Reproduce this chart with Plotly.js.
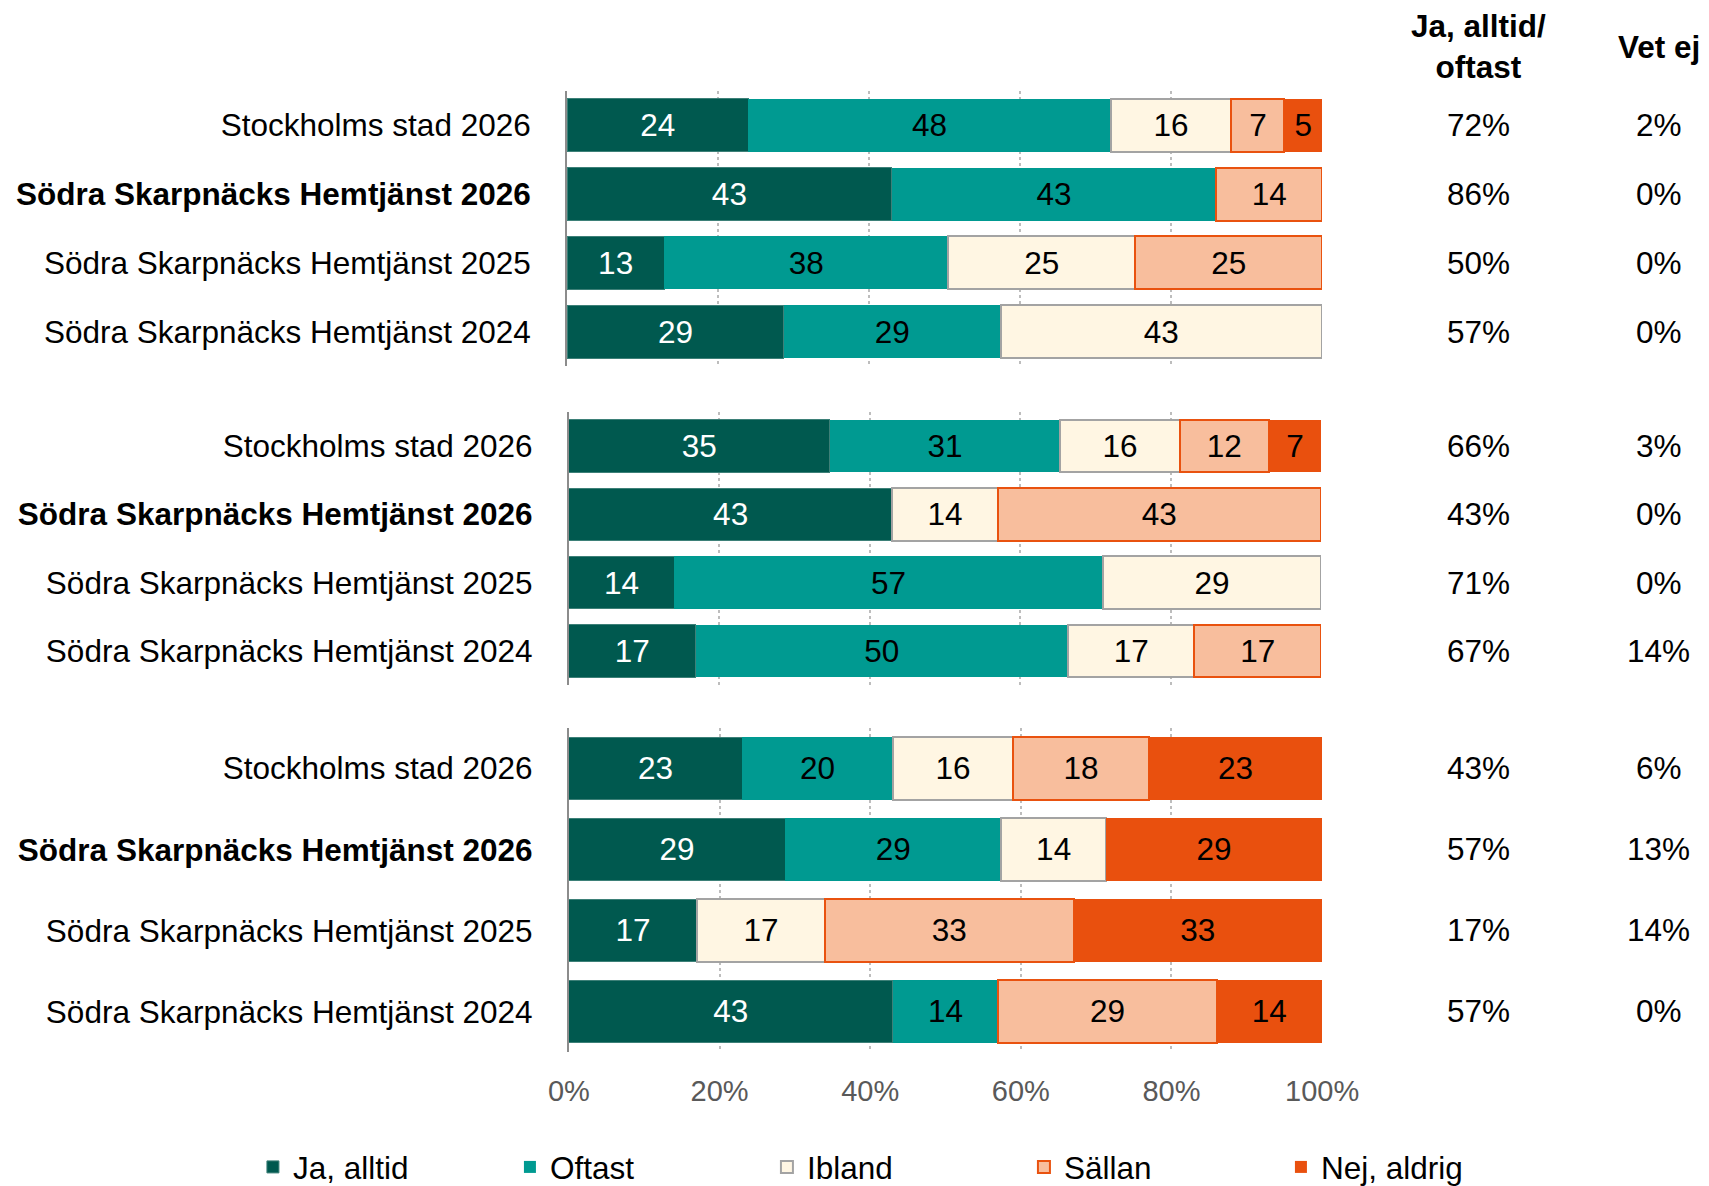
<!DOCTYPE html>
<html>
<head>
<meta charset="utf-8">
<script src="https://cdn.plot.ly/plotly-3.0.1.min.js"></script>
<style>html,body{margin:0;padding:0;background:#fff;}#chart{width:1709px;height:1186px;}</style>
</head>
<body>
<div id="chart"></div>
<script>
// ---- Data ----
const categories = [
  "Stockholms stad 2026",
  "Södra Skarpnäcks Hemtjänst 2026",
  "Södra Skarpnäcks Hemtjänst 2025",
  "Södra Skarpnäcks Hemtjänst 2024"
];
const boldCategory = "Södra Skarpnäcks Hemtjänst 2026";
const seriesNames = ["Ja, alltid", "Oftast", "Ibland", "Sällan", "Nej, aldrig"];

// group 1
const g1_ja     = [24, 43, 13, 29];
const g1_oftast = [48, 43, 38, 29];
const g1_ibland = [16, 0, 25, 43];
const g1_sallan = [7, 14, 25, 0];
const g1_nej    = [5, 0, 0, 0];
const g1_jaOftast = ["72%", "86%", "50%", "57%"];
const g1_vetEj    = ["2%", "0%", "0%", "0%"];

// group 2
const g2_ja     = [35, 43, 14, 17];
const g2_oftast = [31, 0, 57, 50];
const g2_ibland = [16, 14, 29, 17];
const g2_sallan = [12, 43, 0, 17];
const g2_nej    = [7, 0, 0, 0];
const g2_jaOftast = ["66%", "43%", "71%", "67%"];
const g2_vetEj    = ["3%", "0%", "0%", "14%"];

// group 3
const g3_ja     = [23, 29, 17, 43];
const g3_oftast = [20, 29, 0, 14];
const g3_ibland = [16, 14, 17, 0];
const g3_sallan = [18, 0, 33, 29];
const g3_nej    = [23, 29, 33, 14];
const g3_jaOftast = ["43%", "57%", "17%", "57%"];
const g3_vetEj    = ["6%", "13%", "14%", "0%"];

const headerJaOftast = "Ja, alltid/<br>oftast";
const headerVetEj = "Vet ej";
const xTickVals = [0, 20, 40, 60, 80, 100];
const xTickText = ["0%", "20%", "40%", "60%", "80%", "100%"];

// ---- Styles ----
const FONT = '"Liberation Sans", Arial, "DejaVu Sans", sans-serif';
const FS = 31.5;
const fills = ["#00594F", "#009A91", "#FFF6E3", "#F8BE9D", "#E9500E"];
const lines = [
  {color: "#3d8078", width: 1},
  {color: "#009A91", width: 0},
  {color: "#A3A3A3", width: 2},
  {color: "#E9520F", width: 2},
  {color: "#E9500E", width: 0}
];
const textColors = ["#ffffff", "#000000", "#000000", "#000000", "#000000"];

const groups = [
  {series: [g1_ja, g1_oftast, g1_ibland, g1_sallan, g1_nej], jo: g1_jaOftast, ve: g1_vetEj},
  {series: [g2_ja, g2_oftast, g2_ibland, g2_sallan, g2_nej], jo: g2_jaOftast, ve: g2_vetEj},
  {series: [g3_ja, g3_oftast, g3_ibland, g3_sallan, g3_nej], jo: g3_jaOftast, ve: g3_vetEj}
];

const traces = [];
const annotations = [];
groups.forEach((g, gi) => {
  const sfx = gi === 0 ? "" : String(gi + 1);
  g.series.forEach((vals, si) => {
    traces.push({
      type: "bar",
      orientation: "h",
      name: seriesNames[si],
      legendgroup: seriesNames[si],
      showlegend: gi === 0,
      y: categories,
      x: vals.map(v => v === 0 ? null : v),
      text: vals.map(v => v === 0 ? "" : String(v)),
      textposition: "inside",
      insidetextanchor: "middle",
      constraintext: "none",
      textfont: {family: FONT, size: FS, color: textColors[si]},
      marker: {color: fills[si], line: lines[si]},
      xaxis: "x" + sfx,
      yaxis: "y" + sfx,
      hoverinfo: "skip",
      cliponaxis: false
    });
  });
  categories.forEach((c, ci) => {
    annotations.push({xref: "paper", yref: "y" + sfx, x: 0.8654, y: c, text: g.jo[ci],
      showarrow: false, xanchor: "center", yanchor: "middle",
      font: {family: FONT, size: FS, color: "#000"}});
    annotations.push({xref: "paper", yref: "y" + sfx, x: 0.9707, y: c, text: g.ve[ci],
      showarrow: false, xanchor: "center", yanchor: "middle",
      font: {family: FONT, size: FS, color: "#000"}});
  });
});

annotations.push({xref: "paper", yref: "paper", x: 0.8654, y: 0.9612, text: "<b>" + headerJaOftast + "</b>",
  showarrow: false, xanchor: "center", yanchor: "middle",
  font: {family: FONT, size: FS, color: "#000"}});
annotations.push({xref: "paper", yref: "paper", x: 0.9707, y: 0.9604, text: "<b>" + headerVetEj + "</b>",
  showarrow: false, xanchor: "center", yanchor: "middle",
  font: {family: FONT, size: FS, color: "#000"}});

function xAxis(domain, anchor, showLabels) {
  return {
    domain: domain, anchor: anchor, range: [0, 100], fixedrange: true,
    tickmode: "array", tickvals: xTickVals, ticktext: xTickText, showticklabels: showLabels,
    ticks: "", showgrid: true, gridcolor: "#BDBDBD", gridwidth: 2, griddash: "dot",
    zeroline: false, showline: false, automargin: false,
    ticklabelstandoff: 19,
    tickfont: {family: FONT, size: 29, color: "#595959"}
  };
}
function yAxis(domain, anchor) {
  return {
    domain: domain, anchor: anchor, type: "category", autorange: "reversed",
    tickmode: "array", tickvals: categories,
    ticktext: categories.map(c => c === boldCategory ? "<b>" + c + "</b>" : c),
    showline: true, linecolor: "#8C8C8C", linewidth: 2,
    showgrid: false, zeroline: false, ticks: "", automargin: false,
    ticklabelstandoff: 28,
    tickfont: {family: FONT, size: FS, color: "#000"}
  };
}

const layout = {
  width: 1709, height: 1186,
  margin: {l: 0, r: 0, t: 0, b: 0, pad: 0, autoexpand: false},
  paper_bgcolor: "#ffffff", plot_bgcolor: "rgba(0,0,0,0)",
  barmode: "stack", barnorm: "percent", bargap: 0.23,
  showlegend: true,
  legend: {
    orientation: "h", x: 0.148, xanchor: "left", y: -0.0067, yanchor: "bottom",
    font: {family: FONT, size: FS, color: "#000"},
    entrywidth: 212, entrywidthmode: "pixels", traceorder: "normal",
    itemwidth: 30, bgcolor: "rgba(0,0,0,0)"
  },
  xaxis: xAxis([0.3318, 0.7736], "y", false),
  xaxis2: xAxis([0.3329, 0.7730], "y2", false),
  xaxis3: xAxis([0.3329, 0.7736], "y3", true),
  yaxis: yAxis([0.6914, 0.9233], "x"),
  yaxis2: yAxis([0.4224, 0.6526], "x2"),
  yaxis3: yAxis([0.1130, 0.3862], "x3"),
  annotations: annotations
};

Plotly.newPlot("chart", traces, layout, {displayModeBar: false, staticPlot: true});
</script>
</body>
</html>
